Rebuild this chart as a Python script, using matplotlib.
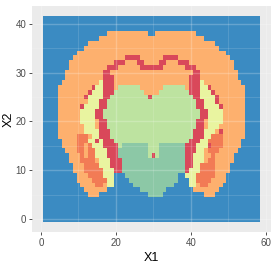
import matplotlib
matplotlib.use("Agg")
import numpy as np
import matplotlib.pyplot as plt
from matplotlib.colors import ListedColormap

# region codes and fill colours
codes = ["B", "O", "R", "Y", "G", "T", "D"]
fills = ["#3b8bc2", "#fdb06e", "#d9485a", "#e9f4a0", "#bde3a0", "#8cc8a6", "#f27b55"]

# tile rows, X2 = 41 at the top down to X2 = 0, run-length coded over X1 = 1..58
rows = [
    "B58",
    "B58",
    "B58",
    "B17 O11 B2 O11 B17",
    "B15 O28 B15",
    "B12 O34 B12",
    "B11 O36 B11",
    "B9 O40 B9",
    "B8 O14 R4 O6 R4 O14 B8",
    "B7 O12 R3 O3 R2 O4 R2 O3 R3 O12 B7",
    "B7 O10 R3 O6 R6 O6 R3 O10 B7",
    "B6 O10 R2 O22 R2 O10 B6",
    "B6 O10 R3 O20 R3 O10 B6",
    "B5 O10 Y1 R3 O20 R3 Y1 O10 B5",
    "B4 O9 R1 Y2 R3 O1 G6 O6 G6 O1 R3 Y2 R1 O9 B4",
    "B4 O8 R1 Y3 R3 G8 O4 G8 R3 Y3 R1 O8 B4",
    "B4 O7 R1 Y4 R2 G10 R1 G11 R2 Y4 R1 O7 B4",
    "B4 O8 Y3 R2 G24 R2 Y3 R1 O7 B4",
    "B4 O6 R1 Y4 R2 G24 R2 Y4 R1 O6 B4",
    "B4 O6 Y4 R2 G26 R2 Y4 O6 B4",
    "B4 O6 Y4 R2 G26 R2 Y4 O6 B4",
    "B4 O6 Y4 O1 R2 G24 R2 O1 Y4 O6 B4",
    "B4 O7 Y3 O1 R2 G24 R2 O1 Y3 O7 B4",
    "B4 O7 Y4 R3 G22 R3 Y3 O1 R1 O6 B4",
    "B4 O5 D3 O1 Y2 R3 G22 R3 Y2 D3 O6 B4",
    "B5 O4 D3 Y2 R1 Y1 R3 G20 R3 Y2 D4 O5 B5",
    "B5 O4 D2 O1 D1 Y3 R4 G1 T7 G3 T7 R3 Y3 R1 D3 O5 B5",
    "B6 O3 D2 O1 D2 Y3 R3 T8 G3 T7 R3 Y2 O1 D3 O5 B6",
    "B7 O3 D1 O1 D2 Y3 R3 T8 G1 R1 G1 T7 R2 Y3 O2 D1 O5 B7",
    "B7 O3 D4 O1 Y3 R3 T17 R2 Y3 O1 D2 O5 B7",
    "B8 O3 D4 Y3 R3 T17 R2 Y2 D4 O4 B8",
    "B8 O3 D5 Y3 R2 T17 R1 Y3 D4 O4 B8",
    "B9 O3 D4 Y3 B3 T14 B2 Y3 D5 O3 B9",
    "B9 O4 D4 Y2 B4 T13 B3 Y2 D4 O4 B9",
    "B10 O4 D2 O1 Y2 B5 T11 B4 Y2 O1 D2 O4 B10",
    "B11 O6 B9 T7 B7 O7 B11",
    "B12 O3 B13 T4 B11 O3 B12",
    "B58",
    "B58",
    "B58",
    "B58",
    "B58",
]

x_ticks = [0, 20, 40, 60]
y_ticks = [0, 10, 20, 30, 40]

grid = []
for r in rows:
    cells = []
    for tok in r.split():
        cells += [codes.index(tok[0])] * int(tok[1:])
    assert len(cells) == 58, r
    grid.append(cells)
grid = np.array(grid[::-1])  # row 0 = X2 0

ny, nx = grid.shape
xe = np.arange(nx + 1) + 0.5
ye = np.arange(ny + 1) - 0.5

fig = plt.figure(figsize=(2.77, 2.63), dpi=100)
ax = fig.add_axes([32 / 277, 31 / 263, 239 / 277, 226 / 263])
ax.set_facecolor("#EBEBEB")
ax.pcolormesh(xe, ye, grid, cmap=ListedColormap(fills), vmin=-0.5, vmax=len(codes) - 0.5,
              shading="flat", zorder=1)

# ggplot style grid, faintly visible through the tiles
for v in [10, 30, 50]:
    ax.axvline(v, color="white", lw=0.5, alpha=0.18, zorder=2)
for v in [5, 15, 25, 35]:
    ax.axhline(v, color="white", lw=0.5, alpha=0.18, zorder=2)
for v in x_ticks:
    ax.axvline(v, color="white", lw=1.0, alpha=0.22, zorder=2)
for v in y_ticks:
    ax.axhline(v, color="white", lw=1.0, alpha=0.22, zorder=2)

ax.set_xlim(0.5 - 2.9, 58.5 + 2.9)
ax.set_ylim(-0.5 - 2.1, 41.5 + 2.1)
ax.set_xticks(x_ticks)
ax.set_yticks(y_ticks)
for s in ax.spines.values():
    s.set_visible(False)
ax.tick_params(length=2.5, width=0.6, color="#333333", labelcolor="#4D4D4D",
               labelsize=7, pad=1.5)
for lab in ax.get_xticklabels() + ax.get_yticklabels():
    lab.set_family("Liberation Sans")
ax.set_xlabel("X1", fontsize=9, family="Liberation Sans", labelpad=3)
ax.set_ylabel("X2", fontsize=9, family="Liberation Sans", labelpad=1)

fig.savefig("out.png", dpi=100)
